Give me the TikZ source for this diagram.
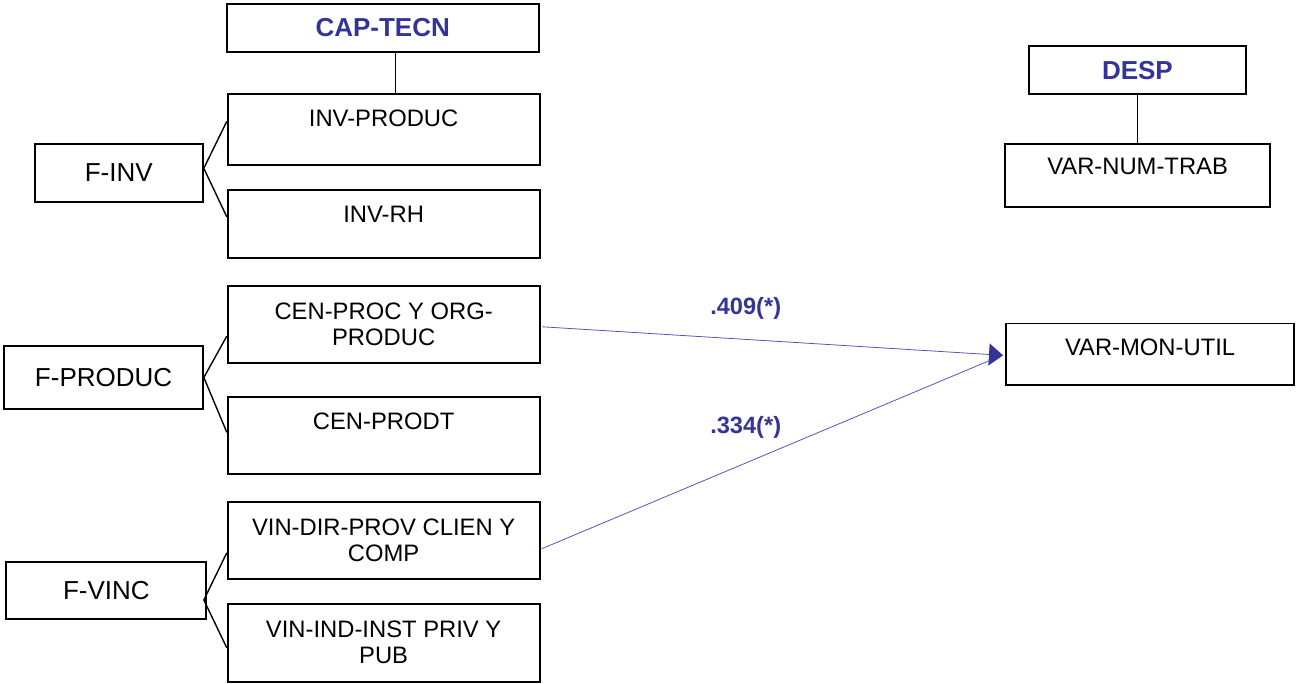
\documentclass[tikz,border=0pt]{standalone}
\usepackage{fontspec}
\setmainfont{Liberation Sans}
\usetikzlibrary{calc,arrows.meta}
\definecolor{navy}{RGB}{51,51,153}
\definecolor{lineblue}{RGB}{85,85,185}
\newcommand{\tbox}[4]{\parbox[t][#2pt][t]{#1pt}{\centering\rule{0pt}{#3pt}#4}}
\newcommand{\fsN}{\fontsize{23.8pt}{26pt}\selectfont}
\newcommand{\fsF}{\fontsize{26pt}{30pt}\selectfont}
\newcommand{\fsB}{\fontsize{26pt}{30pt}\selectfont\bfseries}
\newcommand{\fsL}{\fontsize{23.6pt}{28pt}\selectfont\bfseries}
\begin{document}
\begin{tikzpicture}[x=1pt,y=-1pt,
  tb/.style={draw, line width=1.9pt, line join=miter, inner sep=0pt, anchor=north west, font=\fsN},
  fb/.style={draw, line width=1.9pt, line join=miter, inner sep=0pt, font=\fsF},
  hb/.style={draw, line width=1.9pt, line join=miter, inner sep=0pt, font=\fsB, text=navy},
  conn/.style={line width=1.4pt},
  rel/.style={draw=lineblue, line width=0.8pt},
  lab/.style={font=\fsL, text=navy, inner sep=0pt}]
\useasboundingbox (0,0) rectangle (1296,683);

% header boxes
\node[hb, minimum width=311.8pt, minimum height=47.7pt] (cap) at (382.7,27.9) {CAP-TECN};
\node[hb, minimum width=216.7pt, minimum height=48.3pt] (desp) at (1137.4,70.2) {DESP};

% variable boxes
\node[tb] (invp) at (226.8,92.7) {\tbox{311.8}{71.6}{33}{INV-PRODUC}};
\node[tb] (invrh) at (226.8,189) {\tbox{311.8}{67.7}{33}{INV-RH}};
\node[tb] (cenproc) at (226.8,285) {\tbox{311.8}{76.7}{33.5}{CEN-PROC Y ORG-\\PRODUC}};
\node[tb] (cenprodt) at (226.8,396) {\tbox{311.8}{77}{32.5}{CEN-PRODT}};
\node[tb] (vindir) at (226.8,500.7) {\tbox{311.8}{77}{34}{VIN-DIR-PROV CLIEN Y\\COMP}};
\node[tb] (vinind) at (226.8,603.3) {\tbox{311.8}{77.7}{33.5}{VIN-IND-INST PRIV Y\\PUB}};
\node[tb] (numtrab) at (1004.3,143.3) {\tbox{264.7}{62.7}{30.4}{VAR-NUM-TRAB}};
\node[tb] (varmon) at (1005,322.5) {\tbox{288.3}{61.8}{32.5}{VAR-MON-UTIL}};

% factor boxes
\node[fb, minimum width=168.3pt, minimum height=57.7pt] (finv) at (118.7,172.8) {F-INV};
\node[fb, minimum width=198.6pt, minimum height=63.6pt] (fproduc) at (103.6,377.5) {F-PRODUC};
\node[fb, minimum width=200pt, minimum height=56.7pt] (fvinc) at (106.4,590.6) {F-VINC};

% vertical links
\draw[conn] ($(cap.south west)!0.54!(cap.south east)$) coordinate (cj) -- (cj |- invp.north);
\draw[conn] (desp.south) -- (desp.south |- numtrab.north);

% factor fans
\coordinate (a1) at ($(finv.east)+(0,-4.5)$);
\draw[conn] ($(invp.north west)!0.39!(invp.south west)$) -- (a1) -- ($(invrh.north west)!0.40!(invrh.south west)$);
\coordinate (a2) at (fproduc.east);
\draw[conn] ($(cenproc.north west)!0.65!(cenproc.south west)$) -- (a2) -- ($(cenprodt.north west)!0.46!(cenprodt.south west)$);
\coordinate (a3) at ($(fvinc.north east)!0.66!(fvinc.south east)+(-3.5,0)$);
\draw[conn] ($(vindir.north west)!0.66!(vindir.south west)$) -- (a3) -- ($(vinind.north west)!0.56!(vinind.south west)$);

% relations
\coordinate (tip) at ($(varmon.west)+(-2,1)$);
\coordinate (base2) at ($(varmon.west)+(-15,6)$);
\draw[rel, -{Triangle[length=14pt,width=22pt,fill=navy,color=navy]}] ($(cenproc.east)+(2,2.5)$) -- (tip);
\draw[rel] ($(vindir.north east)!0.61!(vindir.south east)+(1,0)$) -- (base2);

\node[lab] (l1) at (745.7,308.7) {.409(*)};
\node[lab] (l2) at (745.7,427.5) {.334(*)};
\end{tikzpicture}
\end{document}
